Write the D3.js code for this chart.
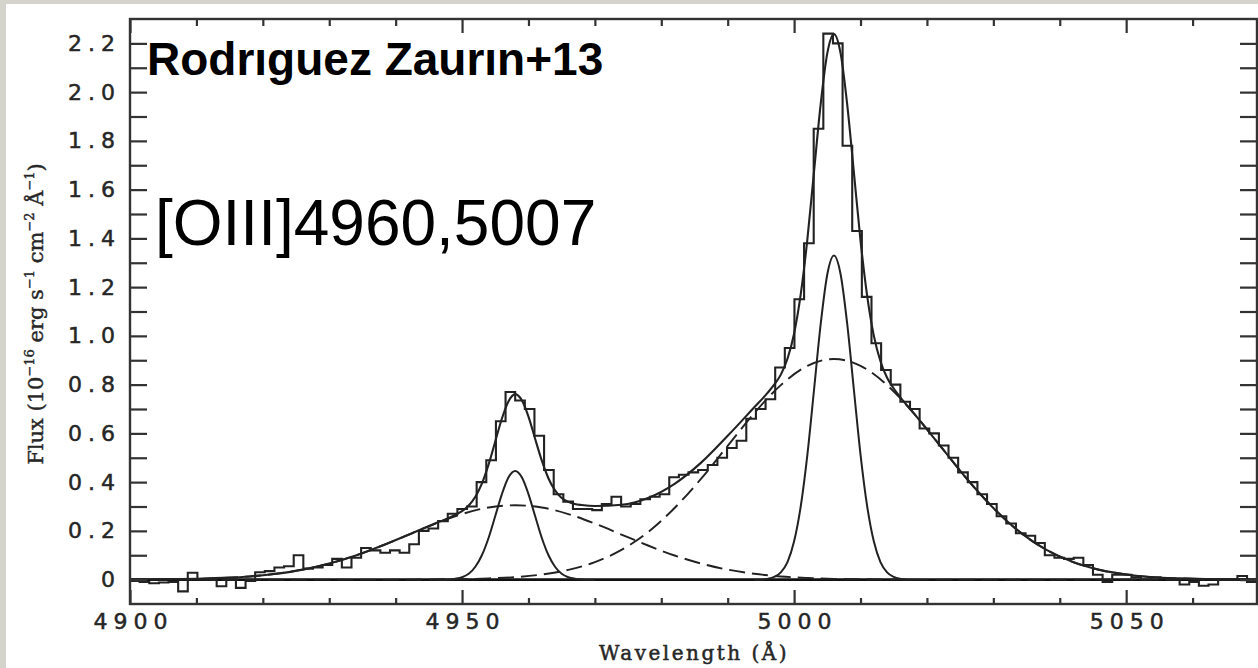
<!DOCTYPE html>
<html>
<head>
<meta charset="utf-8">
<script src="https://cdn.jsdelivr.net/npm/d3@7"></script>
<style>
  html, body { margin: 0; padding: 0; background: #d4d4cc; }
  #chart { width: 1258px; height: 668px; }
  .tick-label { font-family: "DejaVu Sans", sans-serif; font-size: 22px; fill: #262626; stroke: #262626; stroke-width: 0.5px; letter-spacing: 6px; }
</style>
</head>
<body>
<div id="chart"></div>
<script>
// Observed spectrum, one value per 1.45 A bin starting at 4900 A
const binStart = 4900;
const binWidth = 1.45;
const fluxBins = [
  -0.005, -0.01, -0.015, -0.012, -0.01, -0.048, 0.028, 0.002, 0.0, -0.027,
  0.0, -0.034, -0.005, 0.03, 0.035, 0.05, 0.055, 0.10, 0.045, 0.05,
  0.06, 0.085, 0.05, 0.09, 0.13, 0.12, 0.11, 0.12, 0.11, 0.145,
  0.20, 0.21, 0.24, 0.27, 0.29, 0.30, 0.40, 0.49, 0.65, 0.77,
  0.735, 0.70, 0.59, 0.45, 0.35, 0.32, 0.29, 0.29, 0.285, 0.31,
  0.34, 0.30, 0.31, 0.33, 0.34, 0.35, 0.42, 0.43, 0.44, 0.45,
  0.47, 0.50, 0.54, 0.57, 0.66, 0.70, 0.74, 0.87, 0.95, 1.15,
  1.38, 1.85, 2.24, 2.20, 1.78, 1.43, 1.16, 0.97, 0.86, 0.80,
  0.73, 0.70, 0.62, 0.60, 0.55, 0.50, 0.44, 0.40, 0.35, 0.31,
  0.26, 0.23, 0.19, 0.18, 0.15, 0.10, 0.09, 0.085, 0.09, 0.06,
  0.02, -0.01, 0.02, 0.02, 0.01, 0.0, 0.01, 0.005, 0.0, -0.02,
  -0.01, -0.025, -0.02, 0.0, 0.0, 0.015, -0.01, -0.005
];

// Broad components (dashed)
const broadWave = [4900, 4902, 4906, 4910, 4914, 4918, 4922, 4926, 4930, 4934, 4938,
  4942, 4946, 4950, 4954, 4958, 4962, 4966, 4970, 4974, 4978, 4982, 4986, 4990,
  4994, 4998, 5002, 5006, 5010, 5014, 5018, 5022, 5026, 5030, 5034, 5038, 5042,
  5046, 5050, 5054, 5058, 5062, 5066, 5070];
const broad4959 = [0.000, 0.001, 0.002, 0.003, 0.007, 0.013, 0.024, 0.041, 0.066, 0.099, 0.140,
  0.185, 0.230, 0.269, 0.296, 0.305, 0.296, 0.269, 0.230, 0.185, 0.140, 0.099, 0.066, 0.041,
  0.024, 0.013, 0.007, 0.003, 0.002, 0.001, 0, 0, 0, 0, 0, 0, 0,
  0, 0, 0, 0, 0, 0, 0];
const broad5007 = [0, 0, 0, 0, 0, 0, 0, 0, 0, 0, 0,
  0.000, 0.001, 0.002, 0.005, 0.010, 0.021, 0.040, 0.072, 0.122, 0.195, 0.294, 0.414, 0.549,
  0.683, 0.798, 0.877, 0.905, 0.877, 0.798, 0.683, 0.549, 0.414, 0.294, 0.195, 0.122, 0.072,
  0.040, 0.021, 0.010, 0.005, 0.002, 0.001, 0.000];

// Narrow components (solid)
const narrowWave4959 = [4946, 4947, 4948, 4949, 4950, 4951, 4952, 4953, 4954, 4955, 4956, 4957,
  4958, 4959, 4960, 4961, 4962, 4963, 4964, 4965, 4966, 4967, 4968, 4969, 4970];
const narrow4959 = [0, 0, 0.001, 0.004, 0.010, 0.024, 0.053, 0.101, 0.172, 0.261, 0.351, 0.420,
  0.446, 0.420, 0.351, 0.261, 0.172, 0.101, 0.053, 0.024, 0.010, 0.004, 0.001, 0, 0];
const narrowWave5007 = [4994, 4995, 4996, 4997, 4998, 4999, 5000, 5001, 5002, 5003, 5004, 5005,
  5006, 5007, 5008, 5009, 5010, 5011, 5012, 5013, 5014, 5015, 5016, 5017, 5018];
const narrow5007 = [0, 0, 0.003, 0.011, 0.030, 0.072, 0.157, 0.301, 0.513, 0.779, 1.048, 1.253,
  1.330, 1.253, 1.048, 0.779, 0.513, 0.301, 0.157, 0.072, 0.030, 0.011, 0.003, 0, 0];

// Total fit (solid)
const totalWave = [4900, 4902, 4906, 4910, 4914, 4918, 4922, 4926, 4930, 4934, 4938, 4942, 4946,
  4948, 4949, 4950, 4951, 4952, 4953, 4954, 4955, 4956, 4957, 4958, 4959, 4960, 4961, 4962,
  4963, 4964, 4965, 4966, 4967, 4968, 4970, 4974, 4978, 4982, 4986, 4990, 4994,
  4996, 4997, 4998, 4999, 5000, 5001, 5002, 5003, 5004, 5005, 5006, 5007, 5008, 5009, 5010,
  5011, 5012, 5013, 5014, 5015, 5016, 5018, 5022, 5026, 5030, 5034, 5038, 5042, 5046, 5050,
  5054, 5058, 5062, 5066, 5070];
const totalFit = [0.000, 0.001, 0.002, 0.003, 0.007, 0.013, 0.024, 0.041, 0.066, 0.099, 0.140, 0.185, 0.231,
  0.253, 0.266, 0.281, 0.304, 0.340, 0.395, 0.473, 0.567, 0.661, 0.732, 0.761, 0.736, 0.669, 0.578, 0.489,
  0.416, 0.366, 0.335, 0.319, 0.310, 0.306, 0.302, 0.307, 0.335, 0.393, 0.480, 0.590, 0.707,
  0.766, 0.800, 0.841, 0.906, 1.010, 1.171, 1.397, 1.675, 1.951, 2.160, 2.238, 2.159, 1.948, 1.671, 1.391,
  1.164, 1.001, 0.896, 0.828, 0.784, 0.748, 0.683, 0.549, 0.414, 0.294, 0.195, 0.122, 0.072, 0.040, 0.021,
  0.010, 0.005, 0.002, 0.001, 0.000];

// Axis ticks
const xMajorTicks = [4900, 4950, 5000, 5050];
const xMinorTicks = d3.range(4910, 5070, 10).filter(d => d % 50 !== 0);
const yTicks = d3.range(0, 23).map(i => i / 10);   // 0.0 .. 2.2
const yLabelTicks = [0, 0.2, 0.4, 0.6, 0.8, 1.0, 1.2, 1.4, 1.6, 1.8, 2.0, 2.2];

// Layout
const W = 1258, H = 668;
const plot = { left: 130, top: 19, right: 1257, bottom: 604 };
const ink = '#222';

const svg = d3.select('#chart').append('svg')
    .attr('width', W)
    .attr('height', H);

// paper
svg.append('rect').attr('width', W).attr('height', H).attr('fill', '#d4d4cc');
svg.append('rect').attr('x', 6).attr('y', 4).attr('width', W - 6).attr('height', H - 4).attr('fill', '#fff');

const x = d3.scaleLinear().domain([4900, 5069.7]).range([plot.left, plot.right]);
const y = d3.scaleLinear().domain([-0.1, 2.3]).range([plot.bottom, plot.top]);

svg.append('clipPath').attr('id', 'plot-clip')
  .append('rect')
    .attr('x', plot.left).attr('y', plot.top)
    .attr('width', plot.right - plot.left).attr('height', plot.bottom - plot.top);

const marks = svg.append('g').attr('clip-path', 'url(#plot-clip)');

// zero line
marks.append('line')
    .attr('x1', plot.left).attr('x2', plot.right)
    .attr('y1', y(0)).attr('y2', y(0))
    .attr('stroke', '#111').attr('stroke-width', 2.6);

const smooth = d3.line().x(d => x(d[0])).y(d => y(d[1])).curve(d3.curveMonotoneX);
const zip = (ws, vs) => ws.map((w, i) => [w, vs[i]]);

// broad components, dashed
[broad4959, broad5007].forEach(vals => {
  marks.append('path')
      .attr('d', smooth(zip(broadWave, vals)))
      .attr('fill', 'none')
      .attr('stroke', ink)
      .attr('stroke-width', 1.9)
      .attr('stroke-dasharray', '16,7');
});

// narrow components
marks.append('path')
    .attr('d', smooth(zip(narrowWave4959, narrow4959)))
    .attr('fill', 'none').attr('stroke', ink).attr('stroke-width', 2);
marks.append('path')
    .attr('d', smooth(zip(narrowWave5007, narrow5007)))
    .attr('fill', 'none').attr('stroke', ink).attr('stroke-width', 2);

// total fit
marks.append('path')
    .attr('d', smooth(zip(totalWave, totalFit)))
    .attr('fill', 'none').attr('stroke', ink).attr('stroke-width', 2.1);

// observed histogram
const histPts = fluxBins.map((v, k) => [binStart + k * binWidth, v]);
histPts.push([binStart + fluxBins.length * binWidth, fluxBins[fluxBins.length - 1]]);
marks.append('path')
    .attr('d', d3.line().x(d => x(d[0])).y(d => y(d[1])).curve(d3.curveStepAfter)(histPts))
    .attr('fill', 'none').attr('stroke', ink).attr('stroke-width', 2.1);

// axes: ticks drawn inward on all four sides
function styleAxis(g) {
  g.select('.domain').remove();
  g.selectAll('.tick line').attr('stroke', '#333').attr('stroke-width', 2.2);
}

svg.append('g')
    .attr('transform', `translate(0,${plot.bottom})`)
    .call(d3.axisBottom(x).tickValues(xMinorTicks).tickSize(-6).tickFormat(''))
    .call(styleAxis);
svg.append('g')
    .attr('transform', `translate(0,${plot.bottom})`)
    .call(d3.axisBottom(x).tickValues(xMajorTicks).tickSize(-14).tickFormat(d3.format('d')))
    .call(styleAxis)
    .call(g => g.selectAll('text').attr('class', 'tick-label').attr('dx', 3).attr('dy', '0.71em').attr('y', 9));

svg.append('g')
    .attr('transform', `translate(0,${plot.top})`)
    .call(d3.axisTop(x).tickValues(xMinorTicks).tickSize(-7).tickFormat(''))
    .call(styleAxis);
svg.append('g')
    .attr('transform', `translate(0,${plot.top})`)
    .call(d3.axisTop(x).tickValues(xMajorTicks).tickSize(-14).tickFormat(''))
    .call(styleAxis);

const yFmt = d => {
  if (Math.abs(d) < 1e-9) return '0';
  return yLabelTicks.some(t => Math.abs(t - d) < 1e-9) ? d3.format('.1f')(d) : '';
};
svg.append('g')
    .attr('transform', `translate(${plot.left},0)`)
    .call(d3.axisLeft(y).tickValues(yTicks).tickSize(-17).tickPadding(9).tickFormat(yFmt))
    .call(styleAxis)
    .call(g => g.selectAll('text').attr('class', 'tick-label'));
svg.append('g')
    .attr('transform', `translate(${plot.right},0)`)
    .call(d3.axisRight(y).tickValues(yTicks).tickSize(-17).tickFormat(''))
    .call(styleAxis);

// frame
svg.append('rect')
    .attr('x', plot.left).attr('y', plot.top)
    .attr('width', plot.right - plot.left).attr('height', plot.bottom - plot.top)
    .attr('fill', 'none').attr('stroke', '#333').attr('stroke-width', 2.4);

// axis titles
svg.append('text')
    .attr('x', 694).attr('y', 660)
    .attr('text-anchor', 'middle')
    .style('font-family', '"DejaVu Serif", serif')
    .style('font-size', '20px')
    .style('letter-spacing', '2.5px')
    .style('fill', '#262626')
    .style('stroke', '#262626')
    .style('stroke-width', '0.5px')
    .text('Wavelength (\u00C5)');

const yTitle = svg.append('text')
    .attr('transform', 'translate(43,314) rotate(-90)')
    .attr('text-anchor', 'middle')
    .style('font-family', '"DejaVu Serif", serif')
    .style('font-size', '21px')
    .style('fill', '#262626')
    .style('stroke', '#262626')
    .style('stroke-width', '0.4px');
const yParts = [
  ['Flux (10', false], ['\u221216', true], [' erg s', false], ['\u22121', true],
  [' cm', false], ['\u22122', true], [' \u00C5', false], ['\u22121', true], [')', false]
];
yParts.forEach(([t, sup], i) => {
  const prevSup = i > 0 && yParts[i - 1][1];
  yTitle.append('tspan')
      .attr('dy', sup ? -9 : (prevSup ? 9 : 0))
      .style('font-size', sup ? '13px' : null)
      .text(t);
});

// annotations
svg.append('text')
    .attr('x', 147).attr('y', 75)
    .style('font-family', '"Liberation Sans", Arial, sans-serif')
    .style('font-weight', 'bold')
    .style('font-size', '46px')
    .style('fill', '#000')
    .text('Rodr\u0131guez Zaur\u0131n+13');

svg.append('text')
    .attr('x', 155).attr('y', 245)
    .style('font-family', '"Liberation Sans", Arial, sans-serif')
    .style('font-size', '64px')
    .style('fill', '#000')
    .text('[OIII]4960,5007');
</script>
</body>
</html>
